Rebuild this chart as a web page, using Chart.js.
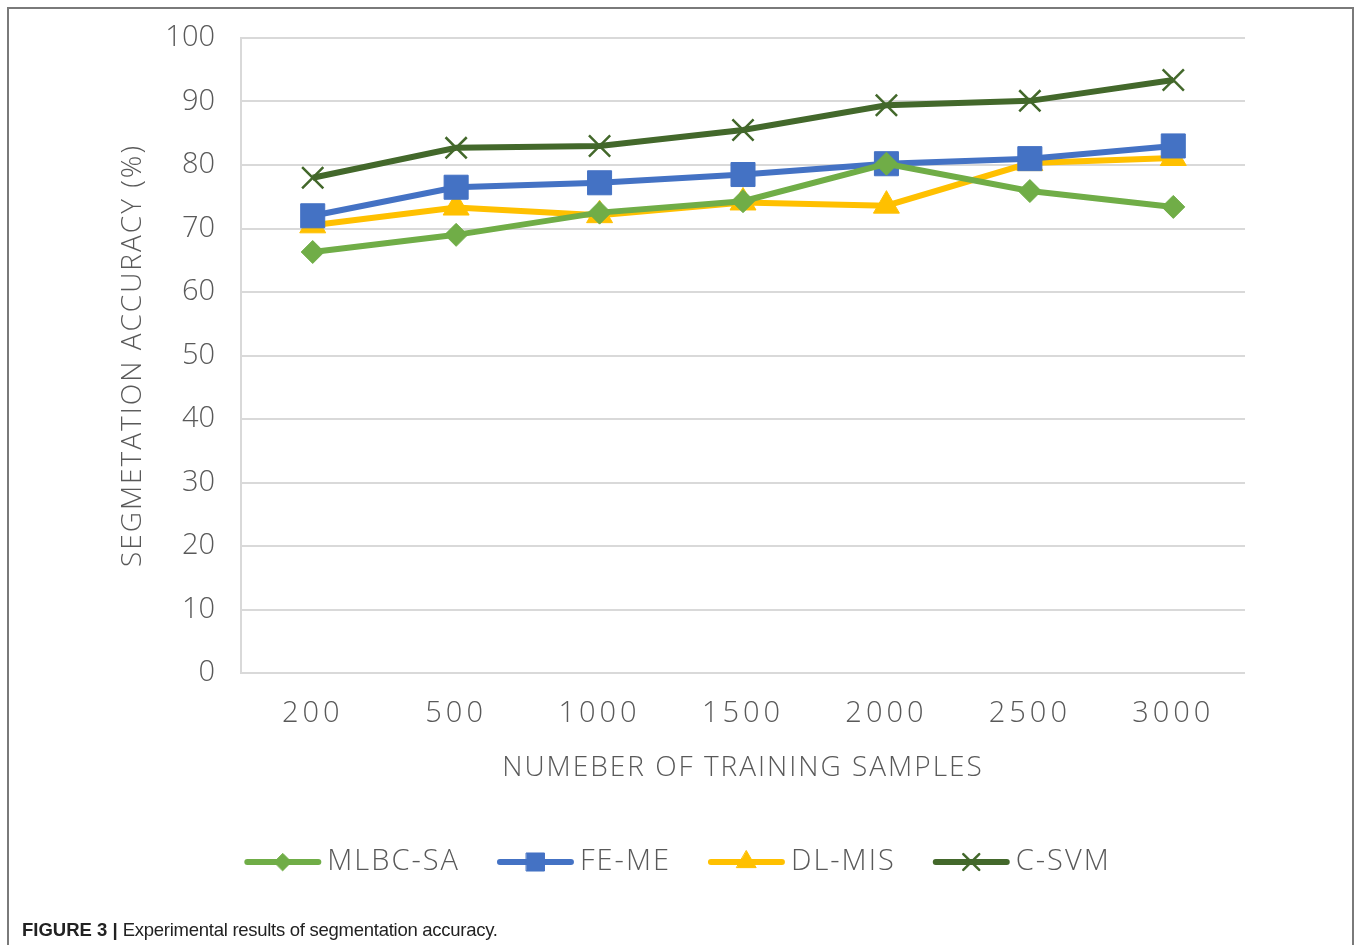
<!DOCTYPE html>
<html>
<head>
<meta charset="utf-8">
<title>Segmentation accuracy</title>
<script src="https://cdn.jsdelivr.net/npm/chart.js@4/dist/chart.umd.min.js"></script>
<style>
  html, body { margin: 0; padding: 0; background: #fff; }
  body { width: 1358px; height: 945px; position: relative; overflow: hidden; }
  #frame {
    position: absolute; left: 7px; top: 7px; width: 1347px; height: 960px;
    border: 2px solid #7a7a7a; box-sizing: border-box;
  }
  #chart { position: absolute; left: 0; top: 0; }
  #caption {
    position: absolute; left: 22px; top: 919px;
    font-family: "Liberation Sans", Arial, sans-serif; font-size: 18.5px;
    color: #222; white-space: nowrap;
  }
  #caption b { font-weight: bold; color: #222; }
  #caption span { letter-spacing: -0.27px; }
</style>
</head>
<body>
<div id="frame"></div>
<canvas id="chart" width="1358" height="945"></canvas>
<div id="caption"><b>FIGURE 3 |</b> <span>Experimental results of segmentation accuracy.</span></div>
<script>
// Training-set sizes and accuracy (%) of each method
const categories = ['200', '500', '1000', '1500', '2000', '2500', '3000'];
const mlbcSA = [66.3, 69.0, 72.5, 74.3, 80.2, 75.9, 73.4];
const feME   = [72.0, 76.5, 77.2, 78.5, 80.2, 81.0, 83.0];
const dlMIS  = [70.5, 73.3, 72.1, 74.1, 73.6, 80.3, 81.1];
const cSVM   = [78.0, 82.7, 83.0, 85.5, 89.4, 90.1, 93.4];
const yTicks = [0, 10, 20, 30, 40, 50, 60, 70, 80, 90, 100];

const FONT = '"Open Sans", "Noto Sans", sans-serif';
const TEXT = '#595959';
const GRID = '#d9d9d9';

function series(label, data, color, style, radius, bw) {
  return {
    label, data,
    borderColor: color, backgroundColor: color,
    borderWidth: 6, tension: 0,
    pointStyle: style, pointRadius: radius, pointHoverRadius: radius,
    pointBackgroundColor: color, pointBorderColor: color,
    pointBorderWidth: bw
  };
}

const datasets = [
  series('MLBC-SA', mlbcSA, '#70ad47', 'rectRot', 11.5, 1),
  series('FE-ME', feME, '#4472c4', 'rect', 17, 1),
  series('DL-MIS', dlMIS, '#ffc000', 'triangle', 15, 1),
  series('C-SVM', cSVM, '#43682b', 'crossRot', 15, 2.5)
];

// Legend drawn as line + marker samples centred under the plot
const lineLegend = {
  id: 'lineLegend',
  afterDraw(chart) {
    const ctx = chart.ctx;
    const y = 862, lineLen = 71, textGap = 9, itemGap = 40;
    ctx.save();
    ctx.font = '300 29px ' + FONT;
    ctx.letterSpacing = '2px';
    const items = chart.data.datasets.map(ds => ({ ds, w: ctx.measureText(ds.label).width }));
    const total = items.reduce((s, it) => s + lineLen + textGap + it.w, 0) + itemGap * (items.length - 1);
    let x = chart.width / 2 - total / 2;
    items.forEach(({ ds, w }) => {
      ctx.strokeStyle = ds.borderColor;
      ctx.lineWidth = 6;
      ctx.lineCap = 'round';
      ctx.beginPath();
      ctx.moveTo(x, y);
      ctx.lineTo(x + lineLen, y);
      ctx.stroke();
      ctx.fillStyle = ds.backgroundColor;
      ctx.strokeStyle = ds.borderColor;
      ctx.lineWidth = ds.pointBorderWidth;
      Chart.helpers.drawPoint(ctx, {
        pointStyle: ds.pointStyle, radius: ds.pointRadius * 0.75,
        borderWidth: ds.pointBorderWidth, rotation: 0
      }, x + lineLen / 2, y);
      ctx.fillStyle = TEXT;
      ctx.textAlign = 'left';
      ctx.textBaseline = 'middle';
      ctx.fillText(ds.label, x + lineLen + textGap, y);
      x += lineLen + textGap + w + itemGap;
    });
    ctx.restore();
  }
};

// Wider letter spacing for the axis texts
function spaceOut(scale, method, spacing) {
  const orig = scale[method];
  scale[method] = function (...args) {
    const c = this.ctx;
    c.save();
    c.letterSpacing = spacing;
    orig.apply(this, args);
    c.restore();
  };
}
const spacedText = {
  id: 'spacedText',
  afterLayout(chart) {
    if (chart._spaced) return;
    chart._spaced = true;
    spaceOut(chart.scales.x, 'drawLabels', '4px');
    spaceOut(chart.scales.x, 'drawTitle', '2px');
    spaceOut(chart.scales.y, 'drawTitle', '2px');
  }
};

new Chart(document.getElementById('chart'), {
  type: 'line',
  data: { labels: categories, datasets },
  plugins: [lineLegend, spacedText],
  options: {
    responsive: false,
    animation: false,
    events: [],
    layout: { padding: { left: 0, right: 113, top: 38, bottom: 160 } },
    plugins: { legend: { display: false }, tooltip: { enabled: false } },
    scales: {
      x: {
        offset: true,
        grid: { display: false, drawTicks: false },
        border: { display: false },
        ticks: { color: TEXT, font: { family: FONT, size: 29, weight: 300 }, padding: 23 },
        title: {
          display: true, text: 'NUMEBER OF TRAINING SAMPLES', color: TEXT,
          font: { family: FONT, size: 28, weight: 300 }, padding: { top: 0, bottom: 0 }
        },
        afterFit(scale) { scale.height = 112; }
      },
      y: {
        min: 0, max: 100,
        afterBuildTicks(scale) { scale.ticks = yTicks.map(v => ({ value: v })); },
        grid: { color: GRID, lineWidth: 2, drawTicks: false },
        border: { display: true, color: GRID, width: 2 },
        ticks: { color: TEXT, font: { family: FONT, size: 29, weight: 300 }, padding: 26 },
        title: {
          display: true, text: 'SEGMETATION ACCURACY (%)', color: TEXT,
          font: { family: FONT, size: 28, weight: 300 }, padding: { top: 116, bottom: 0 }
        },
        afterFit(scale) {
          scale.width = 241;
          scale.paddingTop = 0;
          scale.paddingBottom = 0;
        }
      }
    }
  }
});
</script>
</body>
</html>
